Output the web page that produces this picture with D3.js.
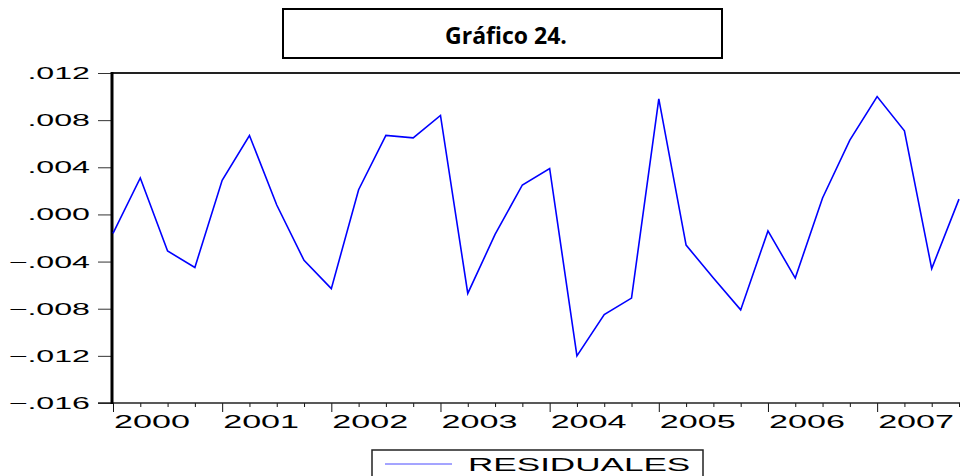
<!DOCTYPE html>
<html>
<head>
<meta charset="utf-8">
<script src="https://cdn.jsdelivr.net/npm/d3@7"></script>
<style>
  body { margin: 0; background: #fff; }
  text { font-family: "Liberation Sans", Arial, sans-serif; }
</style>
</head>
<body>
<div id="chart"></div>
<script>
// Quarterly residuals, 2000Q1 - 2007Q4
const years = [2000, 2001, 2002, 2003, 2004, 2005, 2006, 2007];
const residuales = [
    -0.0016, 0.0031, -0.0031, -0.0045,
    0.0029, 0.0067, 0.0008, -0.0039,
    -0.0063, 0.0021, 0.0067, 0.0065,
    0.0084, -0.0067, -0.0017, 0.0025,
    0.0039, -0.0120, -0.0085, -0.0071,
    0.0098, -0.0026, -0.0054, -0.0081,
    -0.0014, -0.0054, 0.0014, 0.0063,
    0.0100, 0.0071, -0.0046, 0.0013
];
const yTicks = [0.012, 0.008, 0.004, 0.000, -0.004, -0.008, -0.012, -0.016];

let width = 960,
    height = 476;

let margin = { top: 73, bottom: 73, left: 112, right: 1 };

let svg = d3.select('#chart')
    .append('svg')
    .attr('width', width)
    .attr('height', height);

// Scales
let xScale = d3.scaleLinear()
    .domain([0, residuales.length - 1])
    .range([margin.left + 1, width - margin.right]);

let yScale = d3.scaleLinear()
    .domain([-0.016, 0.012])
    .range([height - margin.bottom, margin.top]);

const fmt = v => d3.format('.3f')(v).replace('0.', '.');

// Title box
svg.append('rect')
    .attr('x', 283).attr('y', 9)
    .attr('width', 439).attr('height', 49)
    .attr('fill', '#fff')
    .attr('stroke', '#000')
    .attr('stroke-width', 2);

svg.append('text')
    .attr('x', 506).attr('y', 44)
    .attr('text-anchor', 'middle')
    .style('font-family', '"Open Sans", "Noto Sans", sans-serif')
    .style('font-weight', 'bold')
    .style('font-size', '23px')
    .text('Gráfico 24.');

// Top frame line
svg.append('line')
    .attr('x1', margin.left).attr('x2', width)
    .attr('y1', yScale(0.012)).attr('y2', yScale(0.012))
    .attr('stroke', '#222').attr('stroke-width', 2);

// Y axis
let yAxis = svg.append('g')
    .attr('transform', `translate(${margin.left},0)`)
    .call(d3.axisLeft(yScale).tickValues(yTicks).tickSize(14).tickFormat(''));
yAxis.select('.domain').remove();
yAxis.selectAll('.tick line').attr('stroke', '#333');

yTicks.forEach(v => {
    svg.append('text')
        .attr('transform', `translate(90,${yScale(v) + 6}) scale(1.95,1)`)
        .attr('text-anchor', 'end')
        .style('font-size', '16.5px')
        .text(fmt(v));
});

// X axis: quarter ticks, longer ticks at each year
let xAxis = svg.append('g')
    .attr('transform', `translate(0,${yScale(-0.016)})`)
    .call(d3.axisBottom(xScale).tickValues(d3.range(residuales.length)).tickSize(4).tickFormat(''));
xAxis.select('.domain').remove();
xAxis.selectAll('.tick line')
    .attr('stroke', '#111')
    .attr('y2', d => d % 4 === 0 ? 9 : 4);

svg.append('line')
    .attr('x1', margin.left - 14).attr('x2', width)
    .attr('y1', yScale(-0.016)).attr('y2', yScale(-0.016))
    .attr('stroke', '#222').attr('stroke-width', 1.5);

years.forEach((yr, i) => {
    svg.append('text')
        .attr('transform', `translate(${xScale(i * 4) + 1},${yScale(-0.016) + 25}) scale(1.95,1)`)
        .style('font-size', '17.5px')
        .text(yr);
});

// Thick left axis line
svg.append('line')
    .attr('x1', margin.left).attr('x2', margin.left)
    .attr('y1', yScale(0.012) - 1).attr('y2', yScale(-0.016) + 1)
    .attr('stroke', '#000').attr('stroke-width', 3);

// Residual line
const line = d3.line()
    .x((d, i) => xScale(i))
    .y(d => yScale(d));

svg.append('path')
    .datum(residuales)
    .attr('fill', 'none')
    .attr('stroke', '#0000ff')
    .attr('stroke-width', 1.6)
    .attr('stroke-linejoin', 'miter')
    .attr('d', line);

// Legend
svg.append('rect')
    .attr('x', 372).attr('y', 450)
    .attr('width', 331).attr('height', 40)
    .attr('fill', 'none')
    .attr('stroke', '#222')
    .attr('stroke-width', 1.5);

svg.append('line')
    .attr('x1', 385).attr('x2', 452)
    .attr('y1', 464).attr('y2', 464)
    .attr('stroke', '#4a4aff').attr('stroke-width', 1);

svg.append('text')
    .attr('transform', 'translate(468,471) scale(1.95,1)')
    .style('font-size', '18px')
    .text('RESIDUALES');
</script>
</body>
</html>
